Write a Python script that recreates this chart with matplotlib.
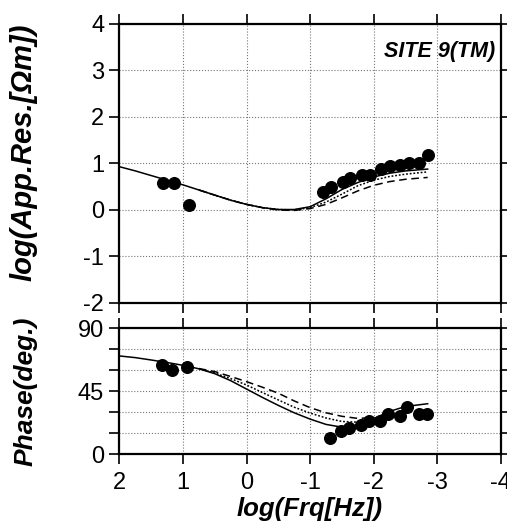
import matplotlib.pyplot as plt
from matplotlib.ticker import MultipleLocator, FuncFormatter

# observed data (log10 frequency)
freq_res = [1.31, 1.15, 0.91, -1.20, -1.33, -1.51, -1.63, -1.81, -1.94,
            -2.11, -2.25, -2.42, -2.55, -2.72, -2.85]
rho = [0.59, 0.59, 0.11, 0.39, 0.49, 0.61, 0.68, 0.75, 0.75,
       0.88, 0.95, 0.97, 1.0, 1.0, 1.18]

freq_ph = [1.33, 1.17, 0.93, -1.31, -1.48, -1.62, -1.80, -1.92, -2.10,
           -2.23, -2.41, -2.52, -2.71, -2.84]
phase = [63.7, 60.1, 62.5, 11.7, 16.5, 18.4, 20.5, 23.9, 23.9,
         28.6, 27.2, 33.4, 28.4, 28.4]

# model responses
x_solid = [2.0, 1.75, 1.5, 1.25, 1.0, 0.75, 0.5, 0.25, 0.0, -0.25, -0.5,
           -0.75, -1.0, -1.25, -1.5, -1.75, -2.0, -2.25, -2.5, -2.85]
rho_solid = [0.93, 0.84, 0.74, 0.64, 0.54, 0.43, 0.32, 0.21, 0.12, 0.05, 0.01,
             0.01, 0.07, 0.24, 0.44, 0.59, 0.71, 0.79, 0.84, 0.88]
ph_solid = [70.2, 69.0, 67.3, 65.5, 63.5, 61.0, 57.5, 52.5, 46.5, 40.5, 34.8,
            29.5, 25.0, 21.2, 19.2, 20.8, 25.3, 30.5, 34.0, 36.0]

x_alt = [0.75, 0.5, 0.25, 0.0, -0.25, -0.5, -0.75, -1.0, -1.25, -1.5,
         -1.75, -2.0, -2.25, -2.5, -2.85]
rho_dot = [0.43, 0.32, 0.21, 0.12, 0.05, 0.01, 0.0, 0.05, 0.17, 0.34,
           0.52, 0.64, 0.72, 0.77, 0.82]
rho_dash = [0.43, 0.32, 0.21, 0.12, 0.05, 0.0, -0.01, 0.03, 0.12, 0.26,
            0.41, 0.53, 0.61, 0.66, 0.70]

x_alt_ph = [0.75, 0.5, 0.25, 0.0, -0.25, -0.5, -0.75, -1.0, -1.25, -1.5, -1.75, -2.0]
ph_dot = [61.0, 58.0, 54.0, 49.4, 44.0, 38.7, 33.5, 29.3, 25.8, 23.3, 22.8, 25.5]
ph_dash = [61.2, 59.0, 55.5, 51.8, 47.8, 43.5, 38.0, 33.2, 29.5, 27.0, 25.5, 26.0]

plt.rcParams['font.family'] = ['Liberation Sans', 'DejaVu Sans']
plt.rcParams['axes.unicode_minus'] = False

fig = plt.figure(figsize=(5.07, 5.32), dpi=100)
ax1 = fig.add_axes([0.2357, 0.4305, 0.7519, 0.5244])
ax2 = fig.add_axes([0.2357, 0.1466, 0.7519, 0.2363])

for ax in (ax1, ax2):
    ax.set_xlim(2, -4)
    ax.xaxis.set_major_locator(MultipleLocator(1))
    ax.grid(True, linestyle=':', color='#777777', linewidth=0.8)
    ax.tick_params(direction='out', length=7, width=1.2, top=True, right=True,
                   labelsize=17, pad=4)
    for s in ax.spines.values():
        s.set_linewidth(1.6)

# resistivity
ax1.plot(x_solid, rho_solid, color='black', lw=1.1)
ax1.plot(x_alt, rho_dot, color='black', lw=1.1, linestyle=(0, (1.2, 1.2)))
ax1.plot(x_alt, rho_dash, color='black', lw=1.1, linestyle=(0, (5, 3)))
ax1.scatter(freq_res, rho, s=70, color='black', zorder=5)
ax1.set_ylim(-2, 4)
ax1.yaxis.set_major_locator(MultipleLocator(1))
ax1.tick_params(labelbottom=False)
ax1.set_ylabel('log(App.Res.[Ωm])', fontsize=21, fontweight='bold',
               fontstyle='italic')
ax1.yaxis.set_label_coords(-0.214, 0.54)
ax1.text(0.985, 0.9, 'SITE 9(TM)', transform=ax1.transAxes, ha='right',
         va='center', fontsize=15.5, fontweight='bold', fontstyle='italic')

# phase
ax2.plot(x_solid, ph_solid, color='black', lw=1.1)
ax2.plot(x_alt_ph, ph_dot, color='black', lw=1.1, linestyle=(0, (1.2, 1.2)))
ax2.plot(x_alt_ph, ph_dash, color='black', lw=1.1, linestyle=(0, (5, 3)))
ax2.scatter(freq_ph, phase, s=70, color='black', zorder=5)
ax2.set_ylim(0, 90)
ax2.yaxis.set_major_locator(MultipleLocator(15))
ax2.yaxis.set_major_formatter(FuncFormatter(lambda v, p: '%d' % v if v % 45 == 0 else ''))
ax2.set_ylabel('Phase(deg.)', fontsize=19, fontweight='bold',
               fontstyle='italic')
ax2.yaxis.set_label_coords(-0.214, 0.5)
ax2.tick_params(axis='x', pad=6)
ax2.set_xlabel('log(Frq[Hz])', fontsize=18.5, fontweight='bold',
               fontstyle='italic', labelpad=2)

fig.savefig('out.png', dpi=100)
